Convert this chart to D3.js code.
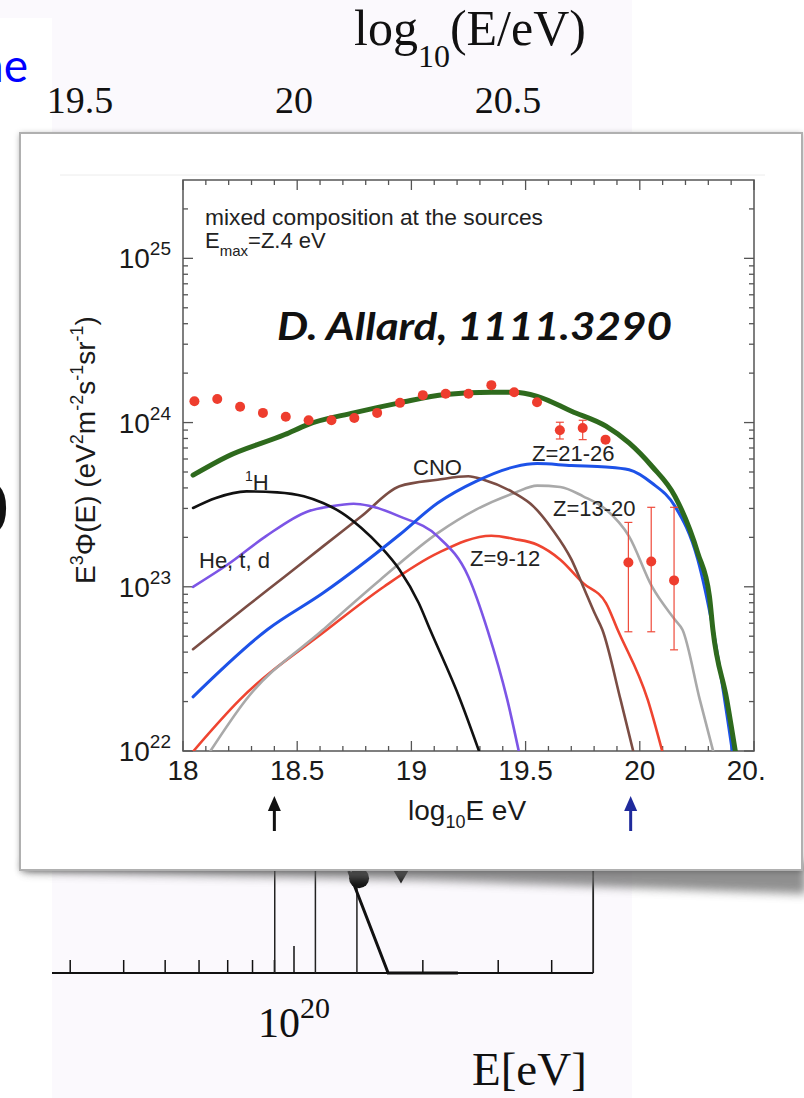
<!DOCTYPE html>
<html><head><meta charset="utf-8">
<script src="https://cdn.jsdelivr.net/npm/d3@7"></script>
<style>body{margin:0;background:#fff}svg{display:block}</style>
</head><body>
<svg id="c" width="804" height="1098"></svg>
<script>
// ---------- DATA (log10 E [eV], log10 E^3 Phi) ----------
const xTickValues = [18, 18.5, 19, 19.5, 20, 20.5];
const xTickLabels = ["18", "18.5", "19", "19.5", "20", "20.5"];
const yDecades = [22, 23, 24, 25];

const totalCurve = [[18.044,23.68],[18.194,23.794],[18.446,23.927],[18.546,23.988],[18.747,24.059],[18.948,24.120],[19.149,24.171],[19.350,24.185],[19.450,24.185],[19.551,24.160],[19.701,24.069],[19.852,23.978],[19.953,23.876],[20.053,23.734],[20.154,23.551],[20.254,23.205],[20.305,22.941],[20.32,22.74],[20.381,22.311],[20.418,22.0]];
const fe2126Curve = [[18.044,22.33],[18.37,22.74],[18.613,22.962],[18.948,23.317],[19.115,23.510],[19.283,23.642],[19.450,23.730],[19.551,23.750],[19.701,23.738],[19.852,23.730],[19.953,23.713],[20.053,23.632],[20.154,23.490],[20.254,23.165],[20.321,22.738],[20.405,22.0]];
const protonCurve = [[18.044,23.48],[18.144,23.541],[18.278,23.581],[18.412,23.575],[18.529,23.551],[18.613,23.510],[18.697,23.449],[18.781,23.358],[18.864,23.246],[18.948,23.104],[19.032,22.901],[19.082,22.738],[19.214,22.311],[19.296,22.0]];
const heliumCurve = [[18.044,23.0],[18.194,23.134],[18.362,23.307],[18.546,23.459],[18.646,23.490],[18.747,23.506],[18.814,23.494],[18.948,23.429],[19.115,23.307],[19.249,23.063],[19.333,22.738],[19.420,22.311],[19.470,22.0]];
const cnoCurve = [[18.044,22.62],[18.278,22.88],[18.446,23.063],[18.613,23.246],[18.781,23.429],[18.948,23.612],[19.115,23.652],[19.249,23.673],[19.316,23.652],[19.450,23.571],[19.534,23.490],[19.618,23.348],[19.701,23.165],[19.752,23.002],[19.802,22.840],[19.836,22.738],[19.916,22.311],[19.971,22.0]];
const z1320Curve = [[18.12,22.0],[18.275,22.311],[18.613,22.738],[18.864,23.043],[19.115,23.327],[19.283,23.470],[19.450,23.571],[19.551,23.616],[19.652,23.608],[19.752,23.551],[19.852,23.470],[19.953,23.307],[20.053,23.002],[20.154,22.799],[20.187,22.738],[20.263,22.311],[20.321,22.0]];
const z912Curve = [[18.046,22.0],[18.248,22.311],[18.630,22.738],[18.881,23.002],[19.115,23.205],[19.350,23.311],[19.450,23.291],[19.551,23.256],[19.652,23.165],[19.752,23.022],[19.852,22.901],[19.903,22.738],[20.035,22.311],[20.098,22.0]];

const dataE  = [18.05,18.15,18.25,18.35,18.45,18.55,18.65,18.75,18.85,18.95,19.05,19.15,19.25,19.35,19.45,19.55,19.65,19.75,19.85,19.95,20.05,20.15];
const dataF  = [24.130,24.144,24.096,24.059,24.035,24.014,24.014,24.028,24.059,24.120,24.167,24.175,24.175,24.228,24.185,24.124,23.953,23.967,23.896,23.148,23.154,23.039];
const dataHi = [null,null,null,null,null,null,null,null,null,null,null,null,null,null,null,null,24.002,24.014,null,23.392,23.484,23.484];
const dataLo = [null,null,null,null,null,null,null,null,null,null,null,null,null,null,null,null,23.900,23.896,null,22.726,22.726,22.616];

// background (slide) plot, mostly hidden
const bgTopTicks = [19.5, 20, 20.5];
const bgMinorTicks = [3e19,4e19,5e19,6e19,7e19,8e19,9e19,2e20,3e20,4e20];
const bgLinesLogE = [19.955, 20.05, 20.147];
const bgCurve = [[20.128, 1.0],[20.22, 0.0],[20.383, 0.0]];

// ---------- DRAW ----------
const svg = d3.select("#c");
const defs = svg.append("defs");
const SANS = "'Liberation Sans', Arial, Helvetica, sans-serif";
const SERIF = "'Liberation Serif', 'Times New Roman', serif";

// slide background
svg.append("rect").attr("x",0).attr("y",0).attr("width",632).attr("height",1098).attr("fill","#fbf9fd");
svg.append("rect").attr("x",0).attr("y",18).attr("width",52).attr("height",1080).attr("fill","#ffffff");

// background plot scales
const bgX = d3.scaleLog().domain([1e19,1e21]).range([294-428, 294+428]);
const bgY = d3.scaleLinear().domain([0,1]).range([973, 871]);
const bgG = svg.append("g");
bgG.append("line").attr("x1",bgX(2.72e19)).attr("x2",bgX(5e20)).attr("y1",973).attr("y2",973).attr("stroke","#111").attr("stroke-width",2);
bgG.selectAll(".bt").data(bgMinorTicks).join("line").attr("x1",d=>bgX(d)).attr("x2",d=>bgX(d)).attr("y1",960).attr("y2",973).attr("stroke","#111").attr("stroke-width",1.5);
bgG.append("line").attr("x1",bgX(1e20)).attr("x2",bgX(1e20)).attr("y1",946).attr("y2",973).attr("stroke","#111").attr("stroke-width",1.5);
bgG.selectAll(".bl").data(bgLinesLogE).join("line").attr("x1",d=>bgX(10**d)).attr("x2",d=>bgX(10**d)).attr("y1",860).attr("y2",973).attr("stroke","#222").attr("stroke-width",1.5);
bgG.append("line").attr("x1",bgX(5e20)).attr("x2",bgX(5e20)).attr("y1",860).attr("y2",973).attr("stroke","#222").attr("stroke-width",1.8);
bgG.append("path").datum(bgCurve).attr("d",d3.line().x(d=>bgX(10**d[0])).y(d=>bgY(d[1]))).attr("fill","none").attr("stroke","#111").attr("stroke-width",3);
bgG.append("circle").attr("cx",bgX(10**20.152)).attr("cy",bgY(0.93)).attr("r",10).attr("fill","#111");
bgG.append("path").attr("d",d3.symbol().type(d3.symbolTriangle).size(90)).attr("transform",`translate(${bgX(10**20.25)},${bgY(0.96)}) rotate(180)`).attr("fill","#111");

// top axis labels of the background plot
bgG.selectAll(".tl").data(bgTopTicks).join("text").attr("x",d=>bgX(10**d)).attr("y",113)
  .attr("text-anchor","middle").attr("font-family",SERIF).attr("font-size",38).attr("fill","#111").text(d=>String(d));
const tt = bgG.append("text").attr("x",354).attr("y",45).attr("font-family",SERIF).attr("font-size",50).attr("fill","#111");
tt.append("tspan").text("log");
tt.append("tspan").attr("font-size",32).attr("dy",22).text("10");
tt.append("tspan").attr("dy",-22).text("(E/eV)");
const t20 = bgG.append("text").attr("x",bgX(1e20)).attr("y",1037).attr("text-anchor","middle").attr("font-family",SERIF).attr("font-size",42).attr("fill","#111");
t20.append("tspan").text("10");
t20.append("tspan").attr("font-size",30).attr("dy",-19).text("20");
bgG.append("text").attr("x",472).attr("y",1085).attr("font-family",SERIF).attr("font-size",47).attr("fill","#111").text("E[eV]");

// slide text fragments (cut by the slide edge, as in the original)
svg.append("text").attr("x",28).attr("y",82).attr("text-anchor","end").attr("font-family","Lato, 'Open Sans', sans-serif").attr("font-size",46).attr("fill","#0000ff").text("ne");
svg.append("text").attr("x",9).attr("y",524).attr("text-anchor","end").attr("font-family",SERIF).attr("font-size",66).attr("fill","#111").text(")");

// shadows
const blur = defs.append("filter").attr("id","blur").attr("x","-10%").attr("y","-50%").attr("width","120%").attr("height","200%");
blur.append("feGaussianBlur").attr("stdDeviation",5);
svg.append("polygon").attr("points","24,862 806,862 806,894 420,880 24,872").attr("fill","#6a6a6a").attr("opacity",0.75).attr("filter","url(#blur)");
const ds = defs.append("filter").attr("id","ds").attr("x","-5%").attr("y","-5%").attr("width","110%").attr("height","110%");
ds.append("feDropShadow").attr("dx",0).attr("dy",1).attr("stdDeviation",3).attr("flood-color","#000").attr("flood-opacity",0.35);
svg.append("rect").attr("x",20).attr("y",133).attr("width",782).attr("height",737).attr("fill","#fff").attr("filter","url(#ds)");
svg.append("rect").attr("x",20).attr("y",133).attr("width",782).attr("height",737).attr("fill","#fff").attr("stroke","#b0b0b0").attr("stroke-width",2);

// faint edge of embedded figure
svg.append("line").attr("x1",60).attr("x2",765).attr("y1",175).attr("y2",175).attr("stroke","#ececec").attr("stroke-width",1);

// ---------- INSET PLOT ----------
const x = d3.scaleLinear().domain([18, 20.5]).range([183, 754]);
const y = d3.scaleLog().domain([1e22, 3e25]).range([751, 180]);
const g = svg.append("g");
defs.append("clipPath").attr("id","plotclip").append("rect").attr("x",183).attr("y",180).attr("width",571).attr("height",571);
defs.append("clipPath").attr("id","labclip").append("rect").attr("x",100).attr("y",740).attr("width",665).attr("height",60);

const frameC = "#555";
// ticks
const xMinor = d3.range(18.1, 20.45, 0.1).filter(v => Math.abs(v*2 - Math.round(v*2)) > 1e-6);
g.selectAll(".xmb").data(xMinor).join("line").attr("x1",d=>x(d)).attr("x2",d=>x(d)).attr("y1",751).attr("y2",746).attr("stroke",frameC).attr("stroke-width",1.3);
g.selectAll(".xmt").data(xMinor).join("line").attr("x1",d=>x(d)).attr("x2",d=>x(d)).attr("y1",180).attr("y2",185).attr("stroke",frameC).attr("stroke-width",1.3);
g.selectAll(".xMb").data(xTickValues).join("line").attr("x1",d=>x(d)).attr("x2",d=>x(d)).attr("y1",751).attr("y2",741).attr("stroke",frameC).attr("stroke-width",1.3);
g.selectAll(".xMt").data(xTickValues).join("line").attr("x1",d=>x(d)).attr("x2",d=>x(d)).attr("y1",180).attr("y2",190).attr("stroke",frameC).attr("stroke-width",1.3);
const yMinor = [];
yDecades.forEach(dd => { for (let m = 2; m <= 9; m++) { const v = m * 10**dd; if (v <= 3e25) yMinor.push(v); } });
const yMajor = yDecades.map(dd => 10**dd);
[[183,1],[754,-1]].forEach(([x0,s]) => {
  g.selectAll(null).data(yMinor).join("line").attr("x1",x0).attr("x2",x0+5*s).attr("y1",d=>y(d)).attr("y2",d=>y(d)).attr("stroke",frameC).attr("stroke-width",1.3);
  g.selectAll(null).data(yMajor).join("line").attr("x1",x0).attr("x2",x0+10*s).attr("y1",d=>y(d)).attr("y2",d=>y(d)).attr("stroke",frameC).attr("stroke-width",1.3);
});
g.append("rect").attr("x",183).attr("y",180).attr("width",571).attr("height",571).attr("fill","none").attr("stroke",frameC).attr("stroke-width",1.5);

// tick labels
g.append("g").attr("clip-path","url(#labclip)").selectAll("text").data(xTickValues).join("text")
  .attr("x",d=>x(d)).attr("y",780).attr("text-anchor","middle").attr("font-family",SANS).attr("font-size",28).attr("fill","#1a1a1a")
  .text((d,i)=>xTickLabels[i]);
yDecades.forEach(dd => {
  const t = g.append("text").attr("x",171).attr("y",y(10**dd)+10).attr("text-anchor","end").attr("font-family",SANS).attr("font-size",28).attr("fill","#1a1a1a");
  t.append("tspan").text("10");
  t.append("tspan").attr("font-size",19).attr("dy",-13).text(String(dd));
});

// axis titles
const xt = g.append("text").attr("x",408).attr("y",820).attr("font-family",SANS).attr("font-size",28).attr("fill","#1a1a1a");
xt.append("tspan").text("log");
xt.append("tspan").attr("font-size",18).attr("dy",8).text("10");
xt.append("tspan").attr("dy",-8).text("E eV");
const yt = g.append("text").attr("transform","translate(95,450) rotate(-90)").attr("text-anchor","middle").attr("font-family",SANS).attr("font-size",28).attr("fill","#1a1a1a");
yt.append("tspan").text("E");
yt.append("tspan").attr("font-size",18).attr("dy",-12).text("3");
yt.append("tspan").attr("dy",12).text("Φ(E) (eV");
yt.append("tspan").attr("font-size",18).attr("dy",-12).text("2");
yt.append("tspan").attr("dy",12).text("m");
yt.append("tspan").attr("font-size",18).attr("dy",-12).text("-2");
yt.append("tspan").attr("dy",12).text("s");
yt.append("tspan").attr("font-size",18).attr("dy",-12).text("-1");
yt.append("tspan").attr("dy",12).text("sr");
yt.append("tspan").attr("font-size",18).attr("dy",-12).text("-1");
yt.append("tspan").attr("dy",12).text(")");

// arrows
function arrow(xv, col) {
  const xp = x(xv);
  g.append("line").attr("x1",xp).attr("x2",xp).attr("y1",831).attr("y2",806).attr("stroke",col).attr("stroke-width",3);
  g.append("path").attr("d",`M${xp-6.5},${811} L${xp},${796} L${xp+6.5},${811} Z`).attr("fill",col);
}
arrow(18.4, "#111");
arrow(19.96, "#1f2a9c");

// curves
const line = d3.line().x(d=>x(d[0])).y(d=>y(10**d[1])).curve(d3.curveMonotoneX);
const curves = g.append("g").attr("clip-path","url(#plotclip)");
const series = [
  [z912Curve, "#ef4430", 2.6],
  [z1320Curve, "#a9a9a9", 2.6],
  [cnoCurve, "#7b4d44", 2.6],
  [heliumCurve, "#7c55e6", 2.6],
  [protonCurve, "#111111", 2.6],
  [fe2126Curve, "#1d52e8", 3.0],
  [totalCurve, "#2e6a1d", 5.0]
];
series.forEach(([d,c,w]) => curves.append("path").datum(d).attr("d",line).attr("fill","none").attr("stroke",c).attr("stroke-width",w).attr("stroke-linejoin","round").attr("stroke-linecap","round"));

// data points
const pts = dataE.map((e,i)=>({e, f:dataF[i], hi:dataHi[i], lo:dataLo[i]}));
const eb = pts.filter(p=>p.hi!==null);
g.selectAll(".eb").data(eb).join("line").attr("x1",p=>x(p.e)).attr("x2",p=>x(p.e)).attr("y1",p=>y(10**p.hi)).attr("y2",p=>y(10**p.lo)).attr("stroke","#ef4a3a").attr("stroke-width",1.2);
g.selectAll(".ebh").data(eb).join("line").attr("x1",p=>x(p.e)-4).attr("x2",p=>x(p.e)+4).attr("y1",p=>y(10**p.hi)).attr("y2",p=>y(10**p.hi)).attr("stroke","#ef4a3a").attr("stroke-width",1.2);
g.selectAll(".ebl").data(eb).join("line").attr("x1",p=>x(p.e)-4).attr("x2",p=>x(p.e)+4).attr("y1",p=>y(10**p.lo)).attr("y2",p=>y(10**p.lo)).attr("stroke","#ef4a3a").attr("stroke-width",1.2);
g.selectAll(".pt").data(pts).join("circle").attr("cx",p=>x(p.e)).attr("cy",p=>y(10**p.f)).attr("r",5).attr("fill","#ee3d2e");

// annotations
const ann = (tx, ty, s) => g.append("text").attr("x",tx).attr("y",ty).attr("font-family",SANS).attr("font-size",22).attr("fill","#222").text(s);
ann(205, 225, "mixed composition at the sources").attr("textLength",338).attr("lengthAdjust","spacingAndGlyphs");
const em = g.append("text").attr("x",205).attr("y",248).attr("font-family",SANS).attr("font-size",22).attr("fill","#222");
em.append("tspan").text("E");
em.append("tspan").attr("font-size",15).attr("dy",8).text("max");
em.append("tspan").attr("dy",-8).text("=Z.4 eV");
const h1 = g.append("text").attr("x",245).attr("y",490).attr("font-family",SANS).attr("font-size",22).attr("fill","#222");
h1.append("tspan").attr("font-size",14).attr("dy",-9).text("1");
h1.append("tspan").attr("dy",9).text("H");
ann(413, 475, "CNO");
ann(532, 461, "Z=21-26");
ann(553, 516, "Z=13-20");
ann(199, 568, "He, t, d");
ann(470, 566, "Z=9-12");

// citation
svg.append("text").attr("x",277).attr("y",340).attr("font-family","Lato, 'Open Sans', sans-serif").attr("font-weight","bold").attr("font-style","italic")
  .attr("font-size",38).attr("fill","#111").attr("textLength",395).attr("lengthAdjust","spacingAndGlyphs").text("D. Allard, 1111.3290");
</script>
</body></html>
